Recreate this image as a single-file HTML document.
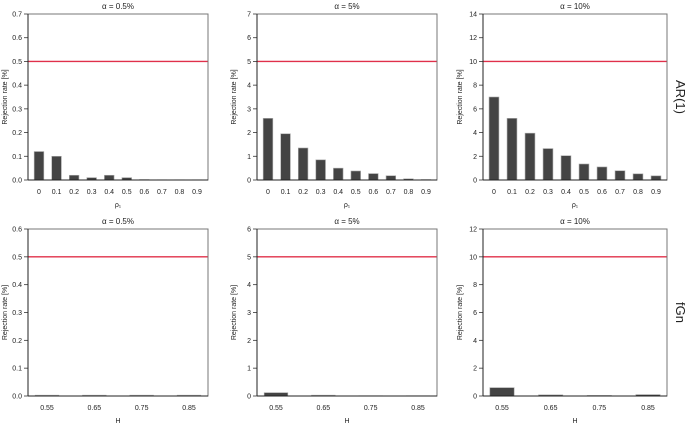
<!DOCTYPE html>
<html><head><meta charset="utf-8"><style>
body{margin:0;background:#fff;}
svg{display:block;font-family:"Liberation Sans",sans-serif;}
</style></head><body>
<svg id="c" width="685" height="425"></svg>
<script>
const arCats=["0","0.1","0.2","0.3","0.4","0.5","0.6","0.7","0.8","0.9"];
const fgnCats=["0.55","0.65","0.75","0.85"];
const ar05=[0.12,0.10,0.02,0.01,0.02,0.01,0.002,0.001,0.001,0.001];
const ar5=[2.6,1.95,1.35,0.85,0.5,0.38,0.27,0.18,0.05,0.02];
const ar10=[7.0,5.2,3.95,2.65,2.05,1.35,1.1,0.78,0.52,0.35];
const fgn05=[0.003,0.003,0.003,0.003];
const fgn5=[0.12,0.03,0.01,0.01];
const fgn10=[0.6,0.08,0.04,0.1];
const alphaLabels=["α = 0.5%","α = 5%","α = 10%"];
const alphaVals=[0.5,5,10];
const arMax=[0.7,7,14], fgnMax=[0.6,6,12];
const arTicks=[[0,0.1,0.2,0.3,0.4,0.5,0.6,0.7],[0,1,2,3,4,5,6,7],[0,2,4,6,8,10,12,14]];
const fgnTicks=[[0,0.1,0.2,0.3,0.4,0.5,0.6],[0,1,2,3,4,5,6],[0,2,4,6,8,10,12]];
const NS="http://www.w3.org/2000/svg";
const svg=document.getElementById('c');
function mk(t,a,p){const e=document.createElementNS(NS,t);for(const k in a)e.setAttribute(k,a[k]);(p||svg).appendChild(e);return e;}
const cols=[[28,208],[257,437],[483,667]];
const rows=[{top:14,bot:180,cats:arCats,data:[ar05,ar5,ar10],max:arMax,ticks:arTicks,xt:"ρ₁",pad:11,bw:0.55,name:"ar1"},
{top:229,bot:396,cats:fgnCats,data:[fgn05,fgn5,fgn10],max:fgnMax,ticks:fgnTicks,xt:"H",pad:19,bw:0.5,name:"fgn"}];
rows.forEach((r,ri)=>{
 cols.forEach((c,ci)=>{
  const g=mk('g',{});
  
  
  const x0=c[0],x1=c[1],max=r.max[ci];
  const y=v=>r.bot-(v/max)*(r.bot-r.top);
  const n=r.cats.length,sp=(x1-x0-2*r.pad)/(n-1);
  const xc=i=>x0+r.pad+i*sp;
  const dec=ci==0?1:0;
  r.ticks[ci].forEach(t=>{
   mk('line',{x1:x0-4,x2:x0,y1:y(t),y2:y(t),stroke:'#333','stroke-width':0.8},g);
   const tx=mk('text',{x:x0-6,y:y(t)+2.5,'font-size':7,'text-anchor':'end',fill:'#222'},g);
   tx.textContent=t.toFixed(dec);
   
   
  });
  r.data[ci].forEach((v,i)=>{
   const b=mk('rect',{x:xc(i)-sp*r.bw/2,y:y(v),width:sp*r.bw,height:r.bot-y(v),fill:'#444',stroke:'#aaa','stroke-width':0.6},g);
   
   
   const tl=mk('text',{x:xc(i),y:r.bot+14,'font-size':7,'text-anchor':'middle',fill:'#222'},g);
   tl.textContent=r.cats[i];
   
   
  });
  const rl=mk('line',{x1:x0,x2:x1,y1:y(alphaVals[ci]),y2:y(alphaVals[ci]),stroke:'#e0304a','stroke-width':1.3},g);
  
  
  mk('rect',{x:x0,y:r.top,width:x1-x0,height:r.bot-r.top,fill:'none',stroke:'#777','stroke-width':1},g);
  mk('line',{x1:x0,x2:x0,y1:r.top,y2:r.bot,stroke:'#222','stroke-width':1},g);
  mk('line',{x1:x0,x2:x1,y1:r.bot,y2:r.bot,stroke:'#222','stroke-width':1},g);
  const ti=mk('text',{x:(x0+x1)/2,y:r.top-5,'font-size':8,'text-anchor':'middle',fill:'#222'},g);
  ti.textContent=alphaLabels[ci];
  
  
  const xt=mk('text',{x:(x0+x1)/2,y:r.bot+27,'font-size':7,'text-anchor':'middle',fill:'#222'},g);
  xt.textContent=r.xt;
  
  
  const yc=(r.top+r.bot)/2,yx=x0-21;
  const yt=mk('text',{x:yx,y:yc,'font-size':7,'text-anchor':'middle',fill:'#222',transform:`rotate(-90 ${yx} ${yc})`},g);
  yt.textContent="Rejection rate [%]";
  
  
 });
 const yc=(r.top+r.bot)/2;
 const lab=mk('text',{x:676,y:yc,'font-size':13,'text-anchor':'middle',fill:'#222',transform:`rotate(90 676 ${yc})`});
 lab.textContent=ri==0?"AR(1)":"fGn";
 
 
});
</script>
</body></html>
